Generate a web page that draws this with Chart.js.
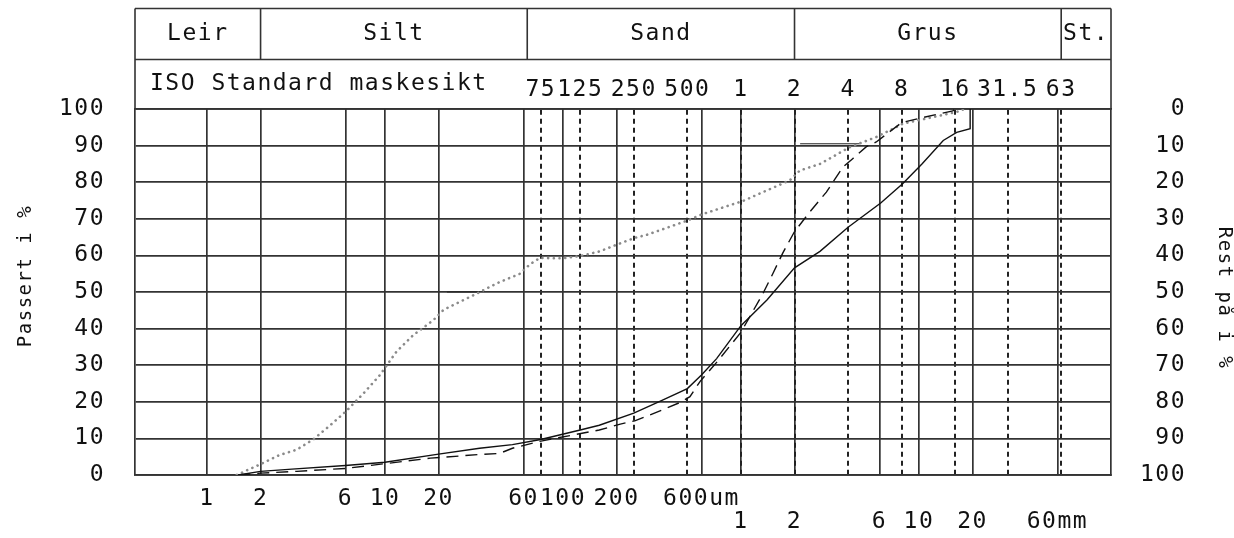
<!DOCTYPE html>
<html lang="no">

<head>
  <meta charset="UTF-8">
  <meta name="viewport" content="width=device-width, initial-scale=1.0">
  <script src="https://cdn.jsdelivr.net/npm/chart.js@4.4.1/dist/chart.umd.min.js"></script>
  <title>Kornfordeling</title>
  <style>
    body { margin: 0; background: #fff; }
  </style>
</head>

<body>
  <canvas id="myChart" width="1234" height="538"></canvas>
  <script>
    // grain size in um, passing in %
    const solidSize = [1.5, 2, 3, 6, 10, 20, 34, 52, 75, 125, 160, 250, 350, 500, 600, 730, 1000, 1400, 2000, 2780, 4000, 6100, 8100, 10400, 13700, 16300, 19400, 19400]
    const solidPass = [0, 1.0, 1.6, 2.6, 3.5, 5.7, 7.3, 8.3, 9.7, 12.3, 13.6, 16.9, 20.1, 23.6, 27.3, 31.8, 40.8, 47.8, 56.6, 61.1, 67.7, 74.3, 79.6, 85, 91.4, 93.6, 94.6, 100]

    const dashSize = [1.5, 2, 3.2, 6, 10, 18, 34, 44, 52, 74, 160, 210, 253, 308, 454, 517, 590, 743, 1000, 1330, 1510, 1720, 2000, 2430, 3020, 3750, 4260, 5070, 5760, 8000, 10600, 15500, 16000]
    const dashPass = [0, 0.5, 1.0, 1.8, 3.1, 4.6, 5.6, 5.9, 7.3, 9.2, 12.3, 13.9, 14.8, 16.4, 19.8, 21.4, 25.6, 31.2, 39, 49.6, 55, 60.7, 66.5, 71.8, 77.3, 84.2, 86.5, 89.7, 91, 96.3, 97.7, 99.5, 100]

    const dotSize = [1.47, 2.07, 2.57, 3.19, 3.95, 4.9, 6.1, 7.54, 9.36, 11.6, 14.4, 18.7, 21.3, 26.3, 31.4, 42.6, 57.4, 65, 74, 100, 124, 161, 190, 253, 295, 505, 610, 1030, 1880, 2145, 2780, 4100, 5800, 8150, 16300, 18000]
    const dotPass = [0, 3.3, 5.5, 6.9, 9.7, 13.5, 17.6, 22.2, 27.3, 33.7, 38.2, 42.3, 45.1, 47.3, 49.1, 52.4, 55, 57.5, 59.3, 59.2, 59.8, 61.1, 62.5, 64.8, 65.6, 69.6, 71.3, 74.9, 80.5, 83.2, 85, 89.6, 92.4, 96, 99.2, 100]

    // d50 / d90 marks
    const d50Size = [22.3, 34.2]
    const d50Pass = [50, 50]
    const d90Size = [2150, 4650]
    const d90Pass = [90.5, 90.5]

    const xTicks = [1, 2, 6, 10, 20, 60, 100, 200, 600, 1000, 2000, 6000, 10000, 20000, 60000]
    const xLabels = ['1', '2', '6', '10', '20', '60', '100', '200', '600um', '1', '2', '6', '10', '20', '60mm']
    const sieveTicks = [75, 125, 250, 500, 1000, 2000, 4000, 8000, 16000, 31500, 63000]
    const sieveLabels = ['75', '125', '250', '500', '1', '2', '4', '8', '16', '31.5', '63']
    const fractions = ['Leir', 'Silt', 'Sand', 'Grus', 'St.']
    const fractionBounds = [2, 63, 2000, 63000]

    const FONT = "'DejaVu Sans Mono', monospace"
    const pts = (xs, ys) => xs.map((x, i) => ({ x: x, y: ys[i] }))

    const paper = {
      id: 'paper',
      beforeDraw: (chart) => {
        const ctx = chart.ctx
        ctx.fillStyle = '#fff'
        ctx.fillRect(0, 0, chart.width, chart.height)
        ctx.letterSpacing = '1.5px'
      }
    }

    const header = {
      id: 'header',
      afterDraw: (chart) => {
        const ctx = chart.ctx
        const { left, right, top } = chart.chartArea
        const xs = chart.scales.x
        const y0 = 8.5, y1 = 59.5
        const edges = [left].concat(fractionBounds.map(v => xs.getPixelForValue(v)), [right])
        ctx.save()
        ctx.strokeStyle = '#333'
        ctx.lineWidth = 1.6
        ctx.beginPath()
        ctx.moveTo(left, y0); ctx.lineTo(right, y0)
        ctx.moveTo(left, y1); ctx.lineTo(right, y1)
        ctx.moveTo(left, y0); ctx.lineTo(left, top)
        ctx.moveTo(right, y0); ctx.lineTo(right, top)
        for (let i = 1; i < edges.length - 1; i++) {
          ctx.moveTo(edges[i], y0); ctx.lineTo(edges[i], y1)
        }
        ctx.stroke()

        ctx.fillStyle = '#111'
        ctx.font = '23px ' + FONT
        ctx.textBaseline = 'middle'
        ctx.textAlign = 'center'
        fractions.forEach((t, i) => ctx.fillText(t, (edges[i] + edges[i + 1]) / 2, 34))
        ctx.textAlign = 'left'
        ctx.fillText('ISO Standard maskesikt', 150, 84)

        ctx.font = '19px ' + FONT
        ctx.textAlign = 'center'
        ctx.save()
        ctx.translate(26, 276)
        ctx.rotate(-Math.PI / 2)
        ctx.fillText('Passert i %', 0, 0)
        ctx.restore()
        ctx.save()
        ctx.translate(1224, 298)
        ctx.rotate(Math.PI / 2)
        ctx.fillText('Rest på i %', 0, 0)
        ctx.restore()
        ctx.restore()
      }
    }

    const ctx = document.getElementById('myChart')
    const myChart = new Chart(ctx, {
      type: 'scatter',
      data: {
        datasets: [
          {
            label: 'Prøve 1',
            data: pts(solidSize, solidPass),
            showLine: true,
            borderColor: '#111',
            borderWidth: 1.4,
            pointRadius: 0
          },
          {
            label: 'Prøve 2',
            data: pts(dashSize, dashPass),
            showLine: true,
            borderColor: '#111',
            borderWidth: 1.4,
            borderDash: [12, 7],
            pointRadius: 0
          },
          {
            label: 'Prøve 3',
            data: pts(dotSize, dotPass),
            showLine: true,
            borderColor: '#8a8a8a',
            borderWidth: 2.6,
            borderDash: [0.1, 5.6],
            borderCapStyle: 'round',
            pointRadius: 0
          },
          {
            label: 'd50',
            data: pts(d50Size, d50Pass),
            showLine: true,
            borderColor: '#222',
            borderWidth: 1,
            pointRadius: 0
          },
          {
            label: 'd90',
            data: pts(d90Size, d90Pass),
            showLine: true,
            borderColor: '#222',
            borderWidth: 1,
            pointRadius: 0
          }
        ]
      },
      plugins: [paper, header],
      options: {
        responsive: false,
        animation: false,
        layout: { padding: 0 },
        plugins: {
          legend: { display: false },
          tooltip: { enabled: false }
        },
        scales: {
          x: {
            type: 'logarithmic',
            position: 'bottom',
            min: 0.394,
            max: 120000,
            bounds: 'data',
            afterBuildTicks: (s) => { s.ticks = xTicks.map(v => ({ value: v })) },
            afterFit: (s) => { s.height = 63 },
            grid: { color: '#333', lineWidth: 1.7, drawTicks: false },
            border: { display: true, color: '#333', width: 1.7 },
            ticks: {
              autoSkip: false,
              maxRotation: 0,
              padding: 12,
              color: '#111',
              font: { size: 23, family: FONT, lineHeight: 1.02 },
              callback: (v, i) => i < 9 ? [xLabels[i], ''] : ['', xLabels[i]]
            }
          },
          x2: {
            type: 'logarithmic',
            position: 'top',
            min: 0.394,
            max: 120000,
            bounds: 'data',
            afterBuildTicks: (s) => { s.ticks = sieveTicks.map(v => ({ value: v })) },
            afterFit: (s) => { s.height = 109 },
            grid: { color: '#222', lineWidth: 2, drawTicks: false },
            border: { display: true, color: '#333', width: 1.7, dash: [5, 4] },
            ticks: {
              autoSkip: false,
              maxRotation: 0,
              padding: 7,
              color: '#111',
              font: { size: 23, family: FONT, lineHeight: 1.02 },
              callback: (v, i) => sieveLabels[i]
            }
          },
          y: {
            position: 'left',
            min: 0,
            max: 100,
            afterFit: (s) => { s.width = 135 },
            grid: { color: '#333', lineWidth: 1.7, drawTicks: false },
            border: { display: true, color: '#333', width: 1.7 },
            ticks: {
              stepSize: 10,
              padding: 30,
              color: '#111',
              font: { size: 23, family: FONT }
            }
          },
          y2: {
            position: 'right',
            min: 0,
            max: 100,
            reverse: true,
            afterFit: (s) => { s.width = 123 },
            grid: { display: false, drawTicks: false },
            border: { display: true, color: '#333', width: 1.7 },
            ticks: {
              stepSize: 10,
              padding: 29,
              color: '#111',
              font: { size: 23, family: FONT },
              callback: (v) => String(v).padStart(3, ' ')
            }
          }
        }
      }
    })
  </script>
</body>

</html>
